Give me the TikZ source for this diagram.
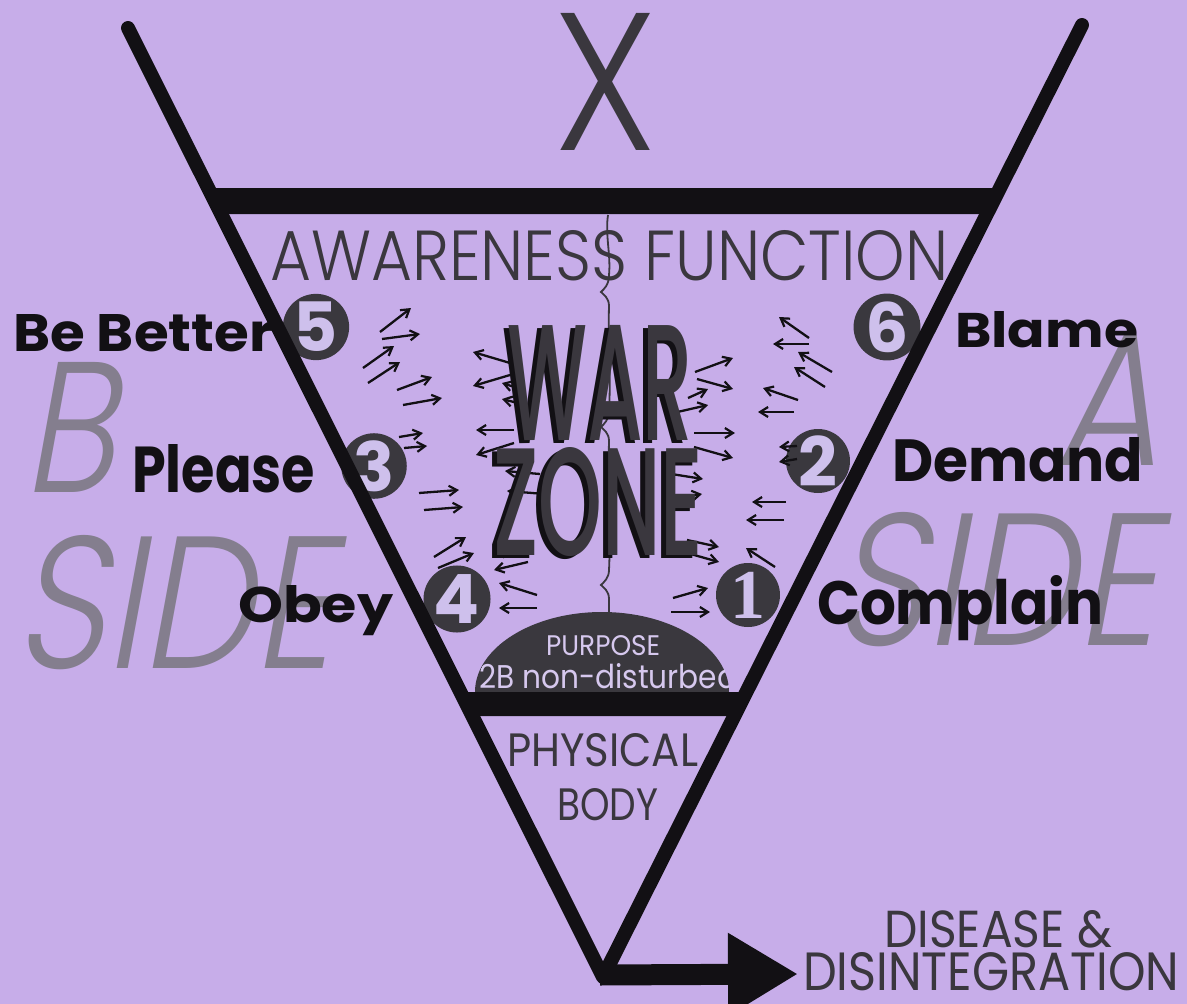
\documentclass[tikz,border=0pt]{standalone}
\usepackage{fontspec}
\setmainfont{Poppins}
\newfontfamily\serifb{Liberation Serif}
\IfFontExistsTF{Poppins Light}{\newfontfamily\thinf{Poppins Light}}{\newfontfamily\thinf{Poppins}}
\IfFontExistsTF{Poppins Light}{\newfontfamily\thinit{Poppins Light}[FakeSlant=0.22]}{\newfontfamily\thinit{Poppins}[FakeSlant=0.22]}
\IfFontExistsTF{Poppins Medium}{\newfontfamily\warf{Poppins Medium}}{\newfontfamily\warf{Poppins}}
\usetikzlibrary{arrows.meta}
\definecolor{bgc}{RGB}{199,173,233}
\definecolor{ink}{RGB}{18,16,20}
\definecolor{dgray}{RGB}{58,55,62}
\definecolor{circc}{RGB}{58,56,62}
\definecolor{numc}{RGB}{206,192,236}
\definecolor{sideg}{RGB}{132,126,142}
\definecolor{purp}{RGB}{214,200,238}
\newcommand{\fitbox}[3]{\resizebox{#1pt}{#2pt}{#3}}
\begin{document}
\begin{tikzpicture}[x=1pt,y=-1pt,
  lbl/.style={inner sep=0pt, anchor=base west, text=ink, font=\bfseries},
  gtx/.style={inner sep=0pt, anchor=base west, text=dgray},
  stx/.style={inner sep=0pt, anchor=base west, text=sideg},
  numcirc/.style={circle, fill=circc, minimum size=64pt, inner sep=0pt, text=numc, font=\bfseries\fontsize{68}{68}\selectfont},
  sa/.style={-{Straight Barb[length=8pt,width=10pt,line width=2.2pt]}, line width=2.3pt, draw=ink},
  frame/.style={line width=14pt, draw=ink, line cap=round, line join=round},
  wav/.style={line width=1.8pt, draw=dgray},
]
\fill[bgc] (0,0) rectangle (1187,1004);
\useasboundingbox (0,0) rectangle (1187,1004);

% frame coordinates
\coordinate (TL) at (128,28);
\coordinate (TR) at (1082,25);
\coordinate (V) at (603,977);
\coordinate (S) at (600,975);
\coordinate (tip) at (798,974);

% big grey side letters
\node[stx] (bL) at (22,492) {\fitbox{92}{130}{\thinit B}};
\node[stx] (sideL) at (14,668) {\fitbox{318}{133}{\thinit SIDE}};
\node[stx] (aR) at (1054,465) {\fitbox{104}{130}{\thinit A}};
\node[stx] (sideR) at (832,645) {\fitbox{324}{133}{\thinit SIDE}};

% top X and awareness
\node[gtx] (X) at (553,150) {\fitbox{104}{137}{\thinf X}};
\node[gtx] (aware) at (270,280) {\fitbox{678}{50}{\thinf AWARENESS FUNCTION}};

% central jagged line
\draw[wav] (608,215) .. controls (605,235) and (611,255) .. (609,275)
  .. controls (609,285) and (604,289) .. (601,292) .. controls (604,295) and (609,298) .. (609,306)
  .. controls (608,340) and (611,380) .. (609,410)
  .. controls (609,420) and (604,424) .. (601,427) .. controls (604,430) and (609,433) .. (609,441)
  .. controls (608,480) and (611,530) .. (609,570)
  .. controls (609,578) and (604,582) .. (601,585) .. controls (604,588) and (609,591) .. (609,599)
  -- (609,612);

% small arrows
\foreach \a/\b/\c/\d in {380/332/411/308, 382/339/420/334, 363/368/394/346, 368/383/400/362,
  397/390/432/377, 403/405/442/398, 399/437/423/433, 404/448/427/446, 419/493/459/490,
  424/510/463/507, 434/557/466/537, 438/568/474/553,
  537/595/499/583, 537/608/499/608,
  510/363/473/352, 510/375/473/386, 524/390/502/383, 526/405/502/399, 514/430/476/430,
  514/443/476/455, 540/474/505/471, 545/494/507/491, 530/551/494/553, 528/562/494/570,
  695/372/733/358, 697/379/733/389, 688/398/708/389, 673/413/708/405, 694/433/735/433,
  694/447/733/458, 665/473/703/479, 667/500/702/494, 687/540/719/547, 687/553/719/562,
  809/338/779/317, 809/344/773/344, 832/372/798/352, 825/387/794/367, 798/400/763/388,
  794/412/758/412, 786/502/752/502, 784/520/746/520, 775/567/746/548,
  673/598/708/588, 671/612/710/612}
  \draw[sa] (\a,\b) -- (\c,\d);

% WAR ZONE
\node[inner sep=0pt, anchor=base west, text=ink] (warsh) at (502,443) {\fitbox{186}{115}{\warf WAR}};
\node[inner sep=0pt, anchor=base west, text=dgray] (war) at (507,440) {\fitbox{186}{115}{\warf WAR}};
\node[inner sep=0pt, anchor=base west, text=ink] (zonesh) at (488,558) {\fitbox{210}{108}{\warf ZONE}};
\node[inner sep=0pt, anchor=base west, text=dgray] (zone) at (493,555) {\fitbox{210}{108}{\warf ZONE}};

% dome
\fill[circc] (475,692) .. controls (475,648) and (532,612) .. (602,612) .. controls (672,612) and (729,648) .. (729,692) -- cycle;
\begin{scope}
\clip (475,692) .. controls (475,648) and (532,612) .. (602,612) .. controls (672,612) and (729,648) .. (729,692) -- cycle;
\node[inner sep=0pt, anchor=base west, text=purp] (purpose) at (546,655) {\fitbox{114}{20}{PURPOSE}};
\node[inner sep=0pt, anchor=base west, text=purp] (nondist) at (479,688) {\fitbox{258}{25}{2B non-disturbed}};
\end{scope}

% numbered circles
\node[numcirc] (n5) at (316,327) {5};
\node[numcirc] (n6) at (887,327) {6};
\node[numcirc] (n3) at (374,466) {3};
\node[numcirc] (n2) at (818,461) {2};
\node[numcirc] (n4) at (457,599) {4};
\node[numcirc, font=\serifb\bfseries\fontsize{70}{70}\selectfont] (n1) at (748,595) {1};
\draw[sa] (797,446) -- (779,447);
\draw[sa] (797,459) -- (779,462);

% bold labels
\node[lbl] (bebetter) at (13,351) {\fitbox{260}{37}{Be Better}};
\node[lbl] (blame) at (955,347) {\fitbox{183}{36}{Blame}};
\node[lbl] (please) at (132,492) {\fitbox{183}{48}{Please}};
\node[lbl] (demand) at (892,481) {\fitbox{251}{44}{Demand}};
\node[lbl] (obey) at (238,622) {\fitbox{155}{37}{Obey}};
\node[lbl] (complain) at (817,624) {\fitbox{286}{49}{Complain}};

% frame
\draw[frame] (TL) -- (V) -- (TR);
\fill[ink] (208,188) -- (1000,188) -- (987,214) -- (221,214) -- cycle;
\fill[ink] (460,692) -- (747,692) -- (735,716) -- (472,716) -- cycle;
\draw[line width=21pt, draw=ink, -{Triangle[length=70pt,width=78pt]}] (S) -- (tip);

% physical body
\node[gtx] (physical) at (507,766) {\fitbox{191}{33}{PHYSICAL}};
\node[gtx] (body) at (557,820) {\fitbox{101}{32}{BODY}};

% disease
\node[gtx] (disease) at (884,947) {\fitbox{228}{37}{DISEASE \&}};
\node[gtx] (disint) at (803,990) {\fitbox{376}{38}{DISINTEGRATION}};
\end{tikzpicture}
\end{document}
